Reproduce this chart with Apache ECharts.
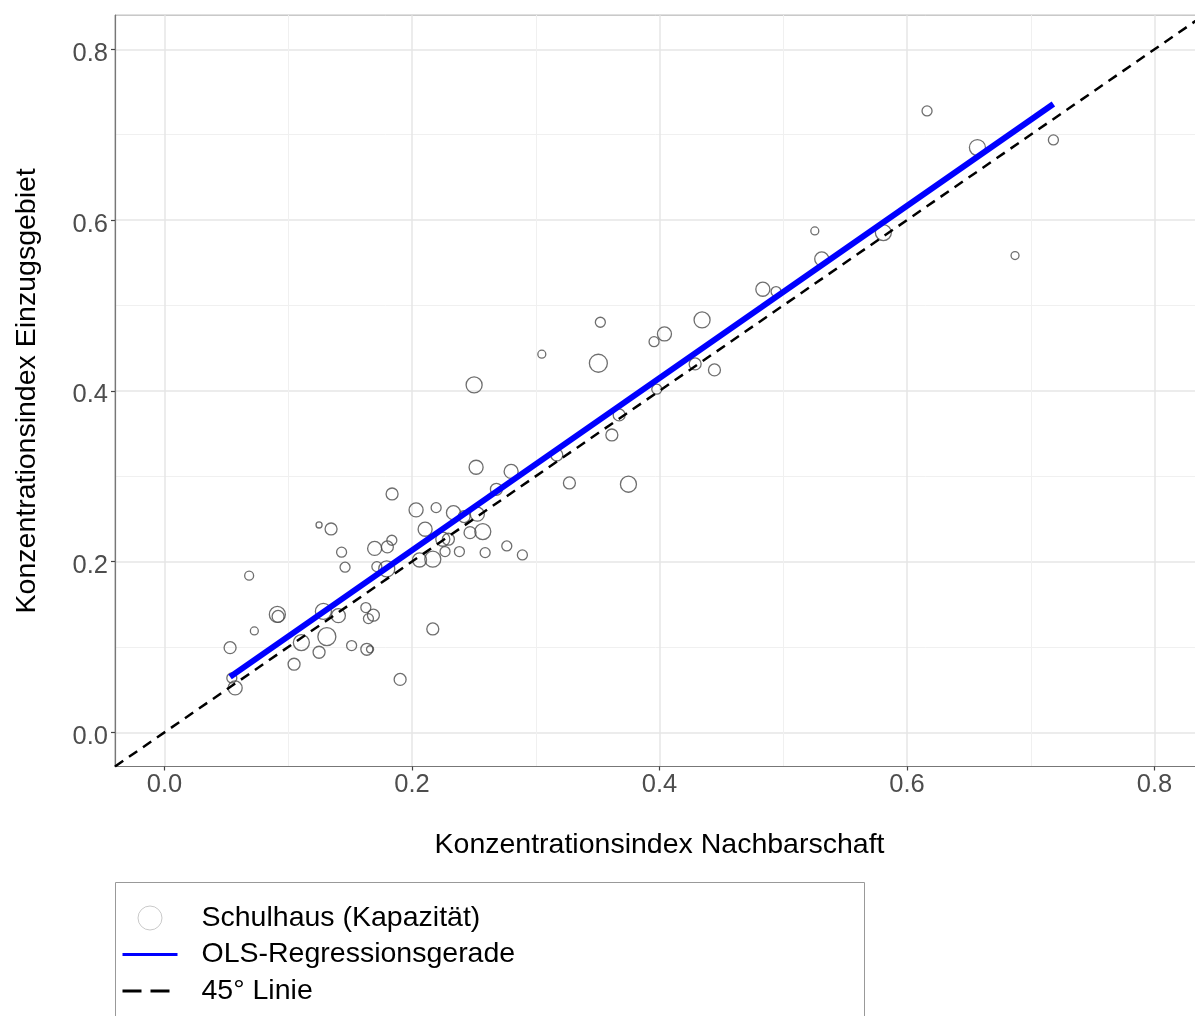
<!DOCTYPE html>
<html><head><meta charset="utf-8">
<script src="https://cdn.jsdelivr.net/npm/echarts@6/dist/echarts.min.js"></script>
<style>html,body{margin:0;padding:0;background:#fff}#c{width:1195px;height:1016px}</style>
</head><body><div id="c"></div>
<script>
// Schulhäuser: Konzentrationsindex Nachbarschaft (x), Einzugsgebiet (y), Kapazität
const xNachbarschaft = [0.0530,0.0544,0.0571,0.0684,0.0726,0.0912,0.0918,0.1047,0.1106,0.1249,
  0.1284,0.1312,0.1249,0.1346,0.1405,0.1512,0.1431,0.1459,0.1635,0.1661,
  0.1627,0.1688,0.1648,0.1698,0.1801,0.1837,0.1716,0.1796,0.1839,0.1904,
  0.2168,0.2518,0.2801,0.3272,0.2682,0.2033,0.2195,0.2335,0.2528,0.2421,
  0.2106,0.2572,0.2469,0.2249,0.2294,0.2267,0.2383,0.2591,0.2766,0.2892,
  0.2061,0.2168,0.2502,0.3049,0.3522,0.3506,0.3956,0.4040,0.4344,0.4288,
  0.4444,0.3978,0.3674,0.3615,0.3170,0.3749,0.6162,0.6569,0.7183,0.6873,
  0.5809,0.5255,0.5311,0.4835,0.4942];
const yEinzugsgebiet = [0.0992,0.0637,0.0520,0.1835,0.1188,0.1381,0.1358,0.0798,0.1051,0.0938,
  0.1416,0.1121,0.2429,0.2382,0.1367,0.1016,0.2110,0.1934,0.0973,0.0973,
  0.1461,0.1372,0.1332,0.2154,0.2172,0.2250,0.1941,0.1914,0.2792,0.0620,
  0.1211,0.3105,0.3056,0.2921,0.2847,0.2605,0.2632,0.2573,0.2555,0.2527,
  0.2379,0.2351,0.2339,0.2262,0.2262,0.2117,0.2117,0.2105,0.2183,0.2078,
  0.2019,0.2028,0.4069,0.4429,0.4803,0.4323,0.4576,0.4666,0.4830,0.4315,
  0.4245,0.4019,0.3718,0.3483,0.3249,0.2906,0.7278,0.6849,0.6939,0.5584,
  0.5853,0.5873,0.5545,0.5190,0.5162];
const kapazitaet = [430,300,590,240,190,770,430,430,770,430,
  770,970,110,430,590,300,300,300,430,150,
  300,430,300,590,430,300,300,770,430,430,
  430,590,590,430,430,590,300,590,590,430,
  590,770,430,590,430,300,300,300,300,300,
  590,770,770,190,300,970,300,590,770,430,
  430,300,430,430,430,770,300,770,300,190,
  770,190,590,590,300];
// OLS-Regressionsgerade (Endpunkte) und 45°-Linie
const olsX = [0.0530, 0.7183];
const olsY = [0.065, 0.736];
const diagX = [-0.04, 0.84];
const diagY = [-0.04, 0.84];
// Achsen
const axisMin = -0.04, axisMax = 0.84;
const majorTicks = [0, 0.2, 0.4, 0.6, 0.8];
const minorTicks = [0.1, 0.3, 0.5, 0.7];
const legendNames = ['Schulhaus (Kapazität)', 'OLS-Regressionsgerade', '45° Linie'];

const FF = 'Liberation Sans, Arial, sans-serif';
const points = xNachbarschaft.map((x, i) => [x, yEinzugsgebiet[i], kapazitaet[i]]);
const olsData = olsX.map((x, i) => [x, olsY[i]]);
const diagData = diagX.map((x, i) => [x, diagY[i]]);

function mainAxis(name, isY) {
  const label = {customValues: majorTicks, formatter: v => v.toFixed(1), fontFamily: FF,
    fontSize: 25.5, color: '#4d4d4d', margin: isY ? 7 : 5};
  if (isY) { label.verticalAlign = 'top'; label.lineHeight = 9; }
  return {
    type: 'value', min: axisMin, max: axisMax,
    name: name, nameLocation: 'middle', nameGap: isY ? 73 : 64,
    nameTextStyle: {fontFamily: FF, fontSize: 28.5, color: '#000'},
    axisLine: {show: true, onZero: false, lineStyle: {color: '#777', width: 1.2}},
    axisTick: {show: true, length: 4, customValues: majorTicks, lineStyle: {color: '#444', width: 1.2}},
    axisLabel: label,
    splitLine: {show: true, lineStyle: {color: '#e6e6e6', width: 1.5}}
  };
}
function minorAxis(isY) {
  return {
    type: 'value', min: axisMin, max: axisMax, position: isY ? 'right' : 'top',
    axisLine: {show: false}, axisTick: {show: false, customValues: minorTicks},
    axisLabel: {show: false, customValues: minorTicks},
    splitLine: {show: true, lineStyle: {color: '#f0f0f0', width: 1}}
  };
}

const chart = echarts.init(document.getElementById('c'), null, {renderer: 'canvas'});
chart.setOption({
  animation: false,
  backgroundColor: '#fff',
  grid: {left: 115, top: 15.15, right: -9, bottom: 249.5, show: true, borderColor: '#aaa', borderWidth: 1,
    containLabel: false, outerBoundsMode: 'none'},
  xAxis: [mainAxis('Konzentrationsindex Nachbarschaft', false), minorAxis(false)],
  yAxis: [mainAxis('Konzentrationsindex Einzugsgebiet', true), minorAxis(true)],
  graphic: [{type: 'rect', shape: {x: 115.5, y: 882.5, width: 749, height: 200},
    style: {fill: 'none', stroke: '#999', lineWidth: 1}, z: 0}],
  legend: {
    orient: 'vertical', left: 115, top: 882, padding: [21, 0, 0, 6],
    itemWidth: 55, itemHeight: 24, itemGap: 6.5,
    textStyle: {fontFamily: FF, fontSize: 28.5, color: '#000', lineHeight: 30, padding: [0, 0, 0, 19]},
    data: [
      {name: legendNames[0], icon: 'circle', itemStyle: {color: 'rgba(0,0,0,0)', borderColor: '#bbb', borderWidth: 1}},
      {name: legendNames[1], itemStyle: {opacity: 0}, lineStyle: {width: 3, opacity: 1}},
      {name: legendNames[2], itemStyle: {opacity: 0}, lineStyle: {width: 3, opacity: 1, type: [19, 9]}}
    ]
  },
  series: [
    {name: legendNames[0], type: 'scatter', xAxisIndex: 0, yAxisIndex: 0, data: points,
      symbol: 'circle', symbolSize: v => 2 * Math.sqrt(v[2] / 12),
      itemStyle: {color: 'rgba(0,0,0,0)', borderColor: '#4a4a4a', borderWidth: 1.3}, z: 2},
    {name: legendNames[1], type: 'line', xAxisIndex: 0, yAxisIndex: 0, data: olsData, symbol: 'none',
      lineStyle: {color: '#0000ff', width: 6, cap: 'butt'}, itemStyle: {color: '#0000ff'}, z: 3},
    {name: legendNames[2], type: 'line', xAxisIndex: 0, yAxisIndex: 0, data: diagData, symbol: 'none',
      lineStyle: {color: '#000', width: 2.5, type: [10, 7]}, itemStyle: {color: '#000'}, z: 4}
  ]
});
</script></body></html>
